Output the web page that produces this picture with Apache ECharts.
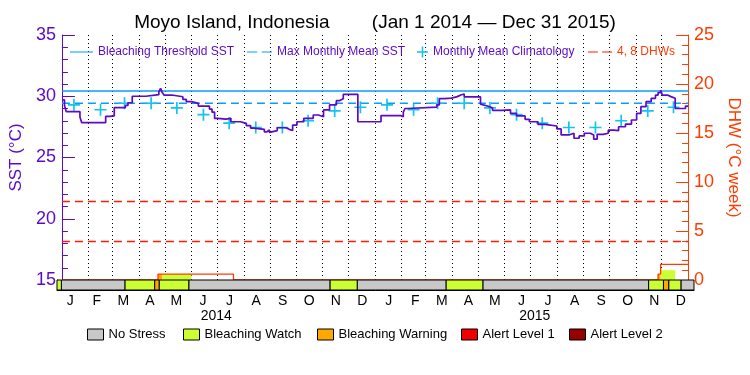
<!DOCTYPE html>
<html>
<head>
<meta charset="utf-8">
<script src="https://cdn.jsdelivr.net/npm/echarts@6/dist/echarts.min.js"></script>
<style>
  html, body { margin: 0; padding: 0; background: #fff; }
  #chart { width: 750px; height: 375px; }
</style>
</head>
<body>
<div id="chart"></div>
<script>
// --- data ---
var startDate = '2014-01-01';
var endDate = '2016-01-01';

var monthLabels = ['J','F','M','A','M','J','J','A','S','O','N','D',
                   'J','F','M','A','M','J','J','A','S','O','N','D'];
var yearLabels = ['2014', '2015'];

var bleachingThreshold = 30.43;
var maxMonthlyMean = 29.43;
var dhwLevels = [4, 8];

// monthly mean climatology, Jan..Dec (same both years)
var climatology = [29.3, 28.9, 29.43, 29.43, 29.05, 28.5, 27.8, 27.45, 27.45, 28.0, 28.8, 29.1];

// SST step series [date, °C]
var sst = [
  ['2014-01-01', 29.7], ['2014-01-04', 29.25], ['2014-01-06', 28.75], ['2014-01-22', 28.3],
  ['2014-01-24', 27.85], ['2014-02-21', 28.35], ['2014-02-26', 28.4], ['2014-03-03', 29.07],
  ['2014-03-16', 29.25], ['2014-03-19', 29.47], ['2014-03-24', 30.0], ['2014-04-09', 30.13],
  ['2014-04-24', 30.35], ['2014-04-26', 30.65], ['2014-04-28', 30.3], ['2014-04-30', 30.1],
  ['2014-05-09', 29.96], ['2014-05-22', 29.75], ['2014-05-26', 29.56], ['2014-06-01', 29.42],
  ['2014-06-09', 29.2], ['2014-06-22', 28.95], ['2014-06-25', 28.7], ['2014-06-28', 28.2],
  ['2014-07-02', 28.14], ['2014-07-11', 28.2], ['2014-07-17', 27.92], ['2014-07-28', 27.79],
  ['2014-08-04', 27.6], ['2014-08-09', 27.4], ['2014-08-13', 27.3], ['2014-08-25', 27.1],
  ['2014-08-28', 27.25], ['2014-08-31', 27.05], ['2014-09-02', 27.2], ['2014-09-09', 27.43],
  ['2014-09-19', 27.3], ['2014-09-23', 27.2], ['2014-09-27', 27.65], ['2014-10-02', 27.92],
  ['2014-10-10', 28.2], ['2014-10-21', 28.47], ['2014-10-27', 28.33], ['2014-11-02', 28.88],
  ['2014-11-09', 29.29], ['2014-11-17', 29.65], ['2014-11-21', 29.8], ['2014-11-25', 30.16],
  ['2014-12-12', 27.92], ['2015-01-08', 28.42], ['2015-01-31', 28.33], ['2015-02-03', 28.7],
  ['2015-02-05', 29.0], ['2015-02-08', 29.12], ['2015-03-14', 29.3], ['2015-03-17', 29.8],
  ['2015-03-23', 29.85], ['2015-03-31', 29.97], ['2015-04-07', 30.1], ['2015-04-11', 30.18],
  ['2015-04-15', 29.95], ['2015-05-04', 29.36], ['2015-05-06', 29.2], ['2015-05-12', 29.05],
  ['2015-05-18', 28.85], ['2015-05-29', 28.88], ['2015-06-08', 28.6], ['2015-06-15', 28.39],
  ['2015-06-25', 28.12], ['2015-06-30', 27.92], ['2015-07-10', 27.7], ['2015-07-18', 27.57],
  ['2015-08-01', 27.33], ['2015-08-06', 26.84], ['2015-08-15', 26.98], ['2015-08-21', 26.57],
  ['2015-08-27', 26.76], ['2015-09-02', 26.98], ['2015-09-09', 26.84], ['2015-09-13', 26.5],
  ['2015-09-17', 26.89], ['2015-09-24', 26.98], ['2015-09-30', 27.24], ['2015-10-06', 27.2],
  ['2015-10-12', 27.51], ['2015-10-20', 27.73], ['2015-10-27', 28.06], ['2015-11-02', 28.6],
  ['2015-11-07', 29.15], ['2015-11-13', 29.56], ['2015-11-19', 29.83], ['2015-11-24', 30.1],
  ['2015-11-27', 30.3], ['2015-11-30', 30.5], ['2015-12-02', 30.1], ['2015-12-08', 29.97],
  ['2015-12-12', 29.83], ['2015-12-17', 29.0], ['2015-12-29', 29.2], ['2016-01-01', 29.2]
];

// degree heating weeks step series [date, °C week]
var dhw = [
  ['2014-01-01', 0], ['2014-04-23', 0.6], ['2014-07-20', 0],
  ['2015-11-27', 0.6], ['2015-11-30', 1.6], ['2016-01-01', 1.6]
];

// coloured fill under the DHW curve [start, end, height]
var dhwFillWatch = [['2014-04-28', '2014-06-01', 0.6], ['2015-11-30', '2015-12-17', 1.0]];
var dhwFillWarning = [['2014-04-23', '2014-04-28', 0.6], ['2015-11-27', '2015-11-30', 0.6]];

// stress level bar [start, end]
var noStress = [
  ['2014-01-06', '2014-03-20'], ['2014-06-01', '2014-11-10'], ['2014-12-11', '2015-03-23'],
  ['2015-05-04', '2015-11-10'], ['2015-12-17', '2016-01-01']
];
var bleachingWatch = [
  ['2014-01-01', '2014-01-06'], ['2014-03-20', '2014-04-23'], ['2014-04-28', '2014-06-01'],
  ['2014-11-10', '2014-12-11'], ['2015-03-23', '2015-05-04'], ['2015-11-10', '2015-11-27'],
  ['2015-12-03', '2015-12-17']
];
var bleachingWarning = [['2014-04-23', '2014-04-28'], ['2015-11-27', '2015-12-03']];
var alertLevel1 = [];
var alertLevel2 = [];

// --- colours ---
var purple = '#5a0ac8';
var orange = '#ff3c00';
var red = '#ff1a00';
var blue = '#0a9bff';
var cyan = '#14c3f0';
var stressColors = {
  'No Stress': '#c8c8c8',
  'Bleaching Watch': '#ccff33',
  'Bleaching Warning': '#ffa800',
  'Alert Level 1': '#f00000',
  'Alert Level 2': '#960000'
};
var font = 'Liberation Sans';

var solidIcon = 'path://M0,0 H22 V1 H0 Z';
var dashIcon = 'path://M0,0 H9 V1 H0 Z M13,0 H22 V1 H13 Z';
var plusIcon = 'path://M4.3,0 H5.7 V4.3 H10 V5.7 H5.7 V10 H4.3 V5.7 H0 V4.3 H4.3 Z';

function toTime(s) {
  var p = s.split('-');
  return new Date(+p[0], +p[1] - 1, +p[2]).getTime();
}

var climData = [];
for (var y = 2014; y <= 2015; y++) {
  for (var m = 0; m < 12; m++) {
    climData.push([new Date(y, m, 15).getTime(), climatology[m]]);
  }
}

function segData(list) {
  return list.map(function (d) { return [toTime(d[0]), toTime(d[1]), d[2] || 0]; });
}

function renderBar(params, api) {
  var p0 = api.coord([api.value(0), 0]);
  var p1 = api.coord([api.value(1), 0]);
  var cs = params.coordSys;
  return {
    type: 'rect',
    shape: { x: p0[0], y: cs.y, width: p1[0] - p0[0], height: cs.height },
    style: { fill: api.visual('color'), stroke: '#000', lineWidth: 1 }
  };
}

function renderFill(params, api) {
  var p0 = api.coord([api.value(0), api.value(2)]);
  var p1 = api.coord([api.value(1), 0]);
  return {
    type: 'rect',
    shape: { x: p0[0], y: p0[1], width: p1[0] - p0[0], height: p1[1] - p0[1] },
    style: { fill: api.visual('color') }
  };
}

function stressSeries(name, list) {
  return {
    name: name, type: 'custom', xAxisIndex: 1, yAxisIndex: 2,
    renderItem: renderBar, encode: { x: [0, 1], y: 2 },
    itemStyle: { color: stressColors[name] },
    data: segData(list), z: 5, silent: true
  };
}

function topLegend(name, left, color, icon, w, h) {
  return {
    data: [{ name: name, icon: icon, textStyle: { color: color } }],
    left: left, top: 46, padding: 0, itemWidth: w, itemHeight: h, itemGap: 0,
    selectedMode: false, textStyle: { fontFamily: font, fontSize: 12 }
  };
}

function bottomLegend(name, left) {
  return {
    data: [name], left: left, top: 328, padding: 0, icon: 'rect',
    itemWidth: 16, itemHeight: 11, selectedMode: false,
    itemStyle: { borderColor: '#000', borderWidth: 1 },
    textStyle: { fontFamily: font, fontSize: 13, color: '#000' }
  };
}

var DAY = 86400000;
var chart = echarts.init(document.getElementById('chart'));

var option = {
  animation: false,
  title: {
    text: 'Moyo Island, Indonesia        (Jan 1 2014 \u2014 Dec 31 2015)',
    left: 'center', top: 13, padding: 0,
    textStyle: { fontFamily: font, fontSize: 19, fontWeight: 'normal', color: '#000' }
  },
  legend: [
    topLegend('Bleaching Threshold SST', 70, purple, solidIcon, 23, 1.3),
    topLegend('Max Monthly Mean SST', 247, purple, dashIcon, 25, 1.3),
    topLegend('Monthly Mean Climatology', 417, purple, plusIcon, 11, 11),
    topLegend('4, 8 DHWs', 588, orange, dashIcon, 24, 1.3),
    bottomLegend('No Stress', 87),
    bottomLegend('Bleaching Watch', 183),
    bottomLegend('Bleaching Warning', 317),
    bottomLegend('Alert Level 1', 461),
    bottomLegend('Alert Level 2', 569)
  ],
  grid: [
    { left: 57, right: 56, top: 35, height: 245 },
    { left: 57, right: 56, top: 280, height: 10 }
  ],
  xAxis: [
    {
      type: 'time', gridIndex: 0, position: 'top',
      min: startDate, max: endDate, splitNumber: 24,
      minInterval: 28 * DAY, maxInterval: 31 * DAY,
      axisLine: { lineStyle: { color: '#000', width: 1 } },
      axisTick: { show: false }, axisLabel: { show: false },
      splitLine: { show: true, lineStyle: { color: '#000', type: [1, 3], width: 1 } }
    },
    {
      type: 'time', gridIndex: 1, position: 'bottom',
      min: startDate, max: endDate,
      axisLine: { lineStyle: { color: '#000', width: 1 } },
      axisTick: { show: false }, axisLabel: { show: false }, splitLine: { show: false }
    },
    {
      type: 'category', gridIndex: 1, position: 'bottom', data: monthLabels,
      axisLine: { show: false }, axisTick: { show: false },
      axisLabel: { margin: 4, fontFamily: font, fontSize: 14, color: '#000', interval: 0 }
    },
    {
      type: 'category', gridIndex: 1, position: 'bottom', offset: 15, data: yearLabels,
      axisLine: { show: false }, axisTick: { show: false },
      axisLabel: { margin: 4, fontFamily: font, fontSize: 14, color: '#000' }
    }
  ],
  yAxis: [
    {
      type: 'value', gridIndex: 0, position: 'left', min: 15, max: 35, interval: 5,
      name: 'SST (\u00B0C)', nameLocation: 'middle', nameRotate: 90, nameGap: 33,
      nameTextStyle: { color: purple, fontFamily: font, fontSize: 17 },
      axisLine: { show: true, lineStyle: { color: purple, width: 1 } },
      axisTick: { show: true, inside: true, length: 13, lineStyle: { color: purple } },
      minorTick: { show: true, splitNumber: 5, length: 6, lineStyle: { color: purple } },
      axisLabel: { color: purple, fontFamily: font, fontSize: 18, margin: 6 },
      splitLine: { show: false }
    },
    {
      type: 'value', gridIndex: 0, position: 'right', min: 0, max: 25, interval: 5,
      name: 'DHW (\u00B0C week)', nameLocation: 'middle', nameRotate: -90, nameGap: 28,
      nameTextStyle: { color: orange, fontFamily: font, fontSize: 17 },
      axisLine: { show: true, lineStyle: { color: orange, width: 1 } },
      axisTick: { show: true, inside: true, length: 12, lineStyle: { color: orange } },
      minorTick: { show: true, splitNumber: 5, length: 6, lineStyle: { color: orange } },
      axisLabel: { color: orange, fontFamily: font, fontSize: 18, margin: 6 },
      splitLine: { show: false }
    },
    {
      type: 'value', gridIndex: 1, position: 'left', min: 0, max: 1,
      axisLine: { show: true, lineStyle: { color: purple, width: 1 } },
      axisTick: { show: false }, axisLabel: { show: false }, splitLine: { show: false }
    }
  ],
  series: [
    {
      name: 'Bleaching Threshold SST', type: 'line', xAxisIndex: 0, yAxisIndex: 0,
      data: [[startDate, bleachingThreshold], [endDate, bleachingThreshold]],
      symbol: 'none', itemStyle: { color: blue },
      lineStyle: { color: blue, width: 1.3 }, z: 2, silent: true
    },
    {
      name: 'Max Monthly Mean SST', type: 'line', xAxisIndex: 0, yAxisIndex: 0,
      data: [[startDate, maxMonthlyMean], [endDate, maxMonthlyMean]],
      symbol: 'none', itemStyle: { color: blue },
      lineStyle: { color: blue, width: 1.3, type: [8, 5] }, z: 2, silent: true
    },
    {
      name: '4, 8 DHWs', type: 'line', xAxisIndex: 0, yAxisIndex: 1, data: [],
      symbol: 'none', itemStyle: { color: red },
      lineStyle: { color: red, width: 1.3, type: [8, 5] },
      markLine: {
        silent: true, symbol: 'none', label: { show: false },
        lineStyle: { color: red, width: 1.3, type: [8, 5] },
        data: dhwLevels.map(function (v) { return { yAxis: v }; })
      }
    },
    {
      name: 'dhwWarningFill', type: 'custom', xAxisIndex: 0, yAxisIndex: 1,
      renderItem: renderFill, encode: { x: [0, 1], y: 2 },
      itemStyle: { color: stressColors['Bleaching Warning'] },
      data: segData(dhwFillWarning), z: 2, silent: true
    },
    {
      name: 'dhwWatchFill', type: 'custom', xAxisIndex: 0, yAxisIndex: 1,
      renderItem: renderFill, encode: { x: [0, 1], y: 2 },
      itemStyle: { color: stressColors['Bleaching Watch'] },
      data: segData(dhwFillWatch), z: 2, silent: true
    },
    {
      name: 'DHW', type: 'line', xAxisIndex: 0, yAxisIndex: 1, step: 'end',
      data: dhw, symbol: 'none', lineStyle: { color: orange, width: 1.3 }, z: 3, silent: true
    },
    {
      name: 'Monthly Mean Climatology', type: 'scatter', xAxisIndex: 0, yAxisIndex: 0,
      data: climData, symbol: plusIcon,
      symbolSize: 12, itemStyle: { color: cyan, opacity: 1 }, z: 4, silent: true
    },
    {
      name: 'SST', type: 'line', xAxisIndex: 0, yAxisIndex: 0, step: 'end',
      data: sst, symbol: 'none', lineStyle: { color: purple, width: 1.7 }, z: 5, silent: true
    },
    stressSeries('No Stress', noStress),
    stressSeries('Bleaching Watch', bleachingWatch),
    stressSeries('Bleaching Warning', bleachingWarning),
    stressSeries('Alert Level 1', alertLevel1),
    stressSeries('Alert Level 2', alertLevel2)
  ]
};

chart.setOption(option);
</script>
</body>
</html>
